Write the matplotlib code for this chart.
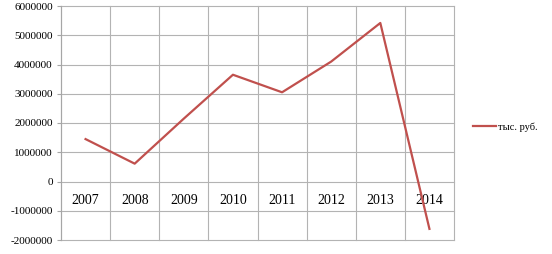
import matplotlib.pyplot as plt
import numpy as np

years = ['2007', '2008', '2009', '2010', '2011', '2012', '2013', '2014']
values = [1450000, 610000, 2150000, 3650000, 3050000, 4100000, 5420000, -1620000]
yticks = [-2000000, -1000000, 0, 1000000, 2000000, 3000000, 4000000, 5000000, 6000000]

plt.rcParams['font.family'] = ['Liberation Serif', 'DejaVu Serif']

fig = plt.figure(figsize=(5.52, 2.54), dpi=100)
ax = fig.add_axes([61 / 552, 1 - 240 / 254, (454 - 61) / 552, (240 - 6) / 254])

x = np.arange(len(years))
line, = ax.plot(x, values, color='#c0504d', lw=1.6, label='тыс. руб.')

ax.set_xlim(-0.5, len(years) - 0.5)
ax.set_ylim(-2000000, 6000000)
ax.set_yticks(yticks)
ax.set_yticklabels([str(v) for v in yticks], fontsize=8)

# category labels sit under the zero line, gridlines between categories
ax.set_xticks(x)
ax.set_xticklabels(years, fontsize=7.5)
ax.set_xticks(np.arange(-0.5, len(years)), minor=True)
ax.spines['bottom'].set_position(('data', 0))
ax.tick_params(axis='x', which='major', length=0, pad=9)
ax.tick_params(axis='x', which='minor', length=0)
ax.tick_params(axis='y', length=3, color='#a6a6a6', pad=3)

ax.grid(axis='y', color='#b3b3b3', lw=0.8)
ax.grid(axis='x', which='minor', color='#b3b3b3', lw=0.8)
ax.grid(axis='x', which='major', visible=False)
for t in ax.yaxis.get_major_ticks() + ax.xaxis.get_minor_ticks():
    t.gridline.set_clip_on(False)
ax.set_axisbelow(True)
for s in ax.spines.values():
    s.set_visible(False)
ax.spines['left'].set_visible(True)
ax.spines['left'].set_color('#a6a6a6')

fig.legend(handles=[line], loc='center left', bbox_to_anchor=(464 / 552, 1 - 127 / 254),
           frameon=False, fontsize=7.5, handlelength=2.2, handletextpad=0.2)

fig.savefig('out.png', dpi=100)
